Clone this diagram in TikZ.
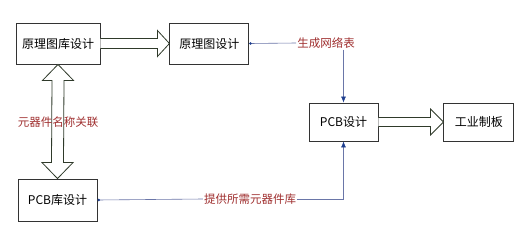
\documentclass[tikz,border=0pt]{standalone}
\usepackage{fontspec}
\newfontfamily\cjk{Noto Sans CJK SC}
\usetikzlibrary{positioning,calc,arrows.meta}
\definecolor{boxline}{HTML}{333333}
\definecolor{labred}{HTML}{A03030}
\definecolor{wirecol}{HTML}{6A76A8}
\definecolor{tipblue}{HTML}{1F3F8F}
\definecolor{fatline}{HTML}{2F3A2A}
\tikzset{
  box/.style={draw=boxline, line width=0.9pt, fill=white, inner sep=0pt,
    font=\cjk\fontsize{12}{14}\selectfont},
  lbl/.style={text=labred, inner sep=1pt, font=\cjk\fontsize{11.5}{13}\selectfont},
  wire/.style={draw=wirecol, line width=0.6pt},
  fat/.style={draw=fatline, line width=0.8pt, fill=white, line join=miter},
}

\begin{document}
\begin{tikzpicture}[x=1pt,y=-1pt,>={Latex[length=6pt,width=5pt,color=tipblue]}]
  \useasboundingbox[fill=white] (0,0) rectangle (530,236);
  % boxes
  \node[box, minimum width=84pt, minimum height=41pt] (lib) at (58,43.5) {原理图库设计};
  \node[box, minimum width=79pt, minimum height=41pt, right=69pt of lib] (sch) {原理图设计};
  \node[box, minimum width=79pt, minimum height=42pt] (pcblib) at (57.5,200) {PCB库设计};
  \node[box, minimum width=69pt, minimum height=38pt] (pcb) at (343.5,122) {PCB设计};
  \node[box, minimum width=70pt, minimum height=38pt, right=65pt of pcb] (make) {工业制板};
  % labels
  \node[lbl] (net) at (326,43) {生成网络表};
  \node[lbl] (parts) at (250,199) {提供所需元器件库};
  % fat arrows
  \draw[fat] ($(lib.east)+(0,-5)$) -- ($(sch.west)+(-12,-5)$) -- ++(0,-8) -- (sch.west)
    -- ++(-12,13) -- ++(0,-8) -- ($(lib.east)+(0,5)$);
  \draw[fat] ($(pcb.east)+(0,-4.5)$) -- ($(make.west)+(-13,-4.5)$) -- ++(0,-8.5) -- (make.west)
    -- ++(-13,13) -- ++(0,-8.5) -- ($(pcb.east)+(0,4.5)$);
  \draw[fat] (lib.south) -- ++(15.5,16) -- ++(-9.5,0) -- ($(pcblib.north)+(6,-16)$)
    -- ++(9.5,0) -- (pcblib.north) -- ++(-15.5,-16) -- ++(9.5,0)
    -- ($(lib.south)+(-6,16)$) -- ++(-9.5,0) -- cycle;
  \node[lbl] (link) at (58,122) {元器件名称关联};
  % wires
  \draw[wire, {Circle[length=2.5pt,color=tipblue]}-] (sch.east) -- (net.west);
  \draw[wire, ->] (net.south -| pcb.north) -- (pcb.north);
  \draw[wire, {Circle[length=2.5pt,color=tipblue]}-] (pcblib.east) -- (parts.west);
  \draw[wire, ->] (parts.east) -| (pcb.south);
\end{tikzpicture}
\end{document}
